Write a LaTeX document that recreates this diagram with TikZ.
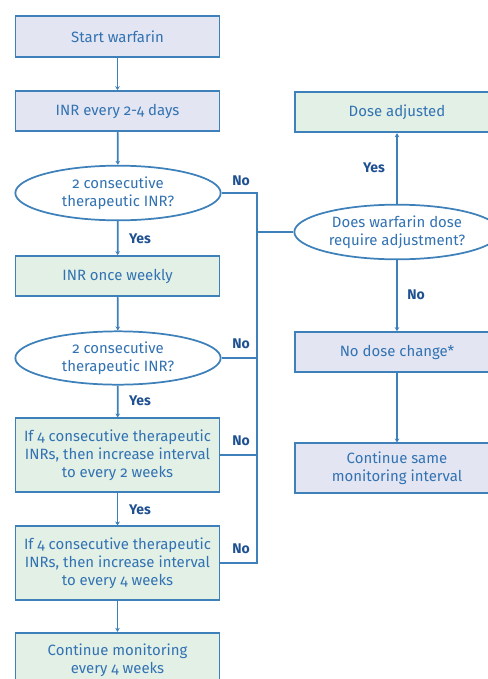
\documentclass[tikz,border=0pt]{standalone}
\usepackage{fontspec}
\setmainfont[Numbers=OldStyle]{Fira Sans}
\usepackage{tikz}
\usetikzlibrary{calc,arrows.meta,positioning,shapes.geometric}
\definecolor{edgeblue}{HTML}{3D80BA}
\definecolor{textblue}{HTML}{3272B2}
\definecolor{labelblue}{HTML}{1F5090}
\definecolor{boxblue}{HTML}{E3E6F2}
\definecolor{boxgreen}{HTML}{E2F0E6}
\tikzset{flowline/.style={edgeblue,line width=1.3pt},flowarrow/.style={flowline,-{Stealth[length=3pt,width=3.5pt]}}}

\begin{document}
\begin{tikzpicture}[x=0.75pt,y=-0.75pt,font=\fontsize{11.2}{13.6}\selectfont]

\tikzset{bluebox/.style={draw=edgeblue,line width=1.3pt,fill=boxblue,text=textblue,minimum width=153pt,align=center,inner sep=2pt},
greenbox/.style={bluebox,fill=boxgreen},
question/.style={draw=edgeblue,line width=1.3pt,fill=white,text=textblue,shape=ellipse,minimum width=154pt,minimum height=41pt,align=center,inner sep=0pt},
yesno/.style={text=labelblue,font=\fontsize{10.5}{12}\selectfont\bfseries}}

\useasboundingbox (0,0) rectangle (488,679);

% Left column
\node[bluebox,minimum height=30.5pt] (start) at (117.5,36.5) {Start warfarin};
\node[bluebox,minimum height=30pt] (inr) at (117.5,111) {INR every 2-4 days};
\node[question] (chk1) at (118,193) {2 consecutive\\therapeutic INR?};
\node[greenbox,minimum height=30pt] (weekly) at (117.5,276) {INR once weekly};
\node[question,minimum height=40pt] (chk2) at (118,358) {2 consecutive\\therapeutic INR?};
\node[greenbox,minimum height=55pt] (twoweeks) at (117.5,455) {If 4 consecutive therapeutic\\INRs, then increase interval\\to every 2 weeks};
\node[greenbox,minimum height=55pt] (fourweeks) at (117.5,563) {If 4 consecutive therapeutic\\INRs, then increase interval\\to every 4 weeks};
\node[greenbox,minimum height=41pt] (cont) at (117.5,660) {Continue monitoring\\every 4 weeks};

% Right column
\node[greenbox,minimum height=30.5pt] (adjusted) at (397,112) {Dose adjusted};
\node[question] (adjq) at (397,232) {Does warfarin dose\\require adjustment?};
\node[bluebox,minimum height=30pt] (nochange) at (397,352) {No dose change*};
\node[bluebox,minimum height=37pt] (same) at (397,468) {Continue same\\monitoring interval};

% Main path
\draw[flowarrow] (start) -- (inr);
\draw[flowarrow] (inr) -- (chk1);
\draw[flowarrow] (chk1) -- (weekly);
\draw[flowarrow] (weekly) -- (chk2);
\draw[flowarrow] (chk2) -- (twoweeks);
\draw[flowarrow] (twoweeks) -- (fourweeks);
\draw[flowarrow] (fourweeks) -- (cont);

% No branches
\coordinate (jtop) at (257,193);
\coordinate (jbot) at (257,563);
\draw[flowline] (chk1.east) -- (jtop) -- (jbot) -- (fourweeks.east);
\draw[flowline] (chk2.east) -- (chk2.east -| jtop);
\draw[flowline] (twoweeks.east) -- (twoweeks.east -| jtop);
\draw[flowline] (adjq.west -| jtop) -- (adjq.west);

% Dose decision
\draw[flowarrow] (adjq) -- (adjusted);
\draw[flowarrow] (adjq) -- (nochange);
\draw[flowarrow] (nochange) -- (same);

% Labels
\foreach \y in {239,401,510} \node[yesno] at (140,\y) {Yes};
\foreach \y in {181,344,441,549} \node[yesno] at (241,\y) {No};
\node[yesno] at (374,168) {Yes};
\node[yesno] at (416,295) {No};

\end{tikzpicture}
\end{document}
